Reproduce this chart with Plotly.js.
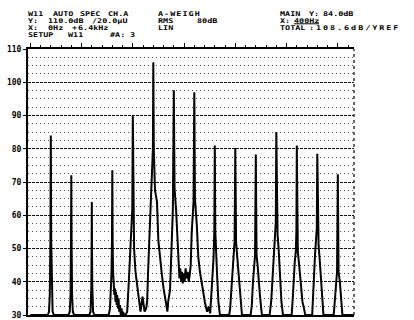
<!DOCTYPE html>
<html><head><meta charset="utf-8">
<script src="https://cdn.plot.ly/plotly-3.0.1.min.js"></script>
<style>html,body{margin:0;padding:0;background:#fff}#chart{width:414px;height:320px}</style>
</head><body><div id="chart"></div>
<script>
// Spectrum trace (frequency in Hz, level in dB)
const freqHz = [0,
 340,365,380,392,400,408,420,435,460,
 745,770,785,793,800,807,815,830,855,
 1150,1175,1190,1196,1200,1204,1210,1225,1250,
 1530,1555,1572,1585,1593,1600,1607,1615,1625,1640,1650,1662,1672,1685,1695,1710,1722,1735,1750,1765,1780,1795,1810,1830,
 1860,1890,1922,1950,1970,1990,2000,2010,2025,2052,2117,2150,2190,2230,2260,
 2280,2297,2336,2369,2392,2400,2410,2433,2455,2472,2498,2530,2564,2600,2628,2661,2675,2690,2726,
 2761,2782,2800,2815,2845,2862,2890,2910,2925,2945,2960,2975,2990,3010,3030,3050,3070,3090,3110,3130,3150,3170,3185,3200,
 3212,3247,3278,3310,3344,3375,3409,3450,3480,3510,
 3536,3560,3575,3590,3600,3610,3625,3645,3670,3700,
 3880,3900,3925,3950,3965,3985,4000,4015,4035,4055,4080,4110,4130,
 4300,4322,4345,4365,4385,4400,4415,4435,4455,4480,4505,4520,
 4670,4700,4730,4755,4775,4790,4800,4810,4825,4845,4870,4900,4930,
 5100,5125,5140,5160,5180,5192,5200,5208,5220,5240,5262,5285,5310,5340,5365,
 5500,5520,5540,5555,5575,5590,5600,5610,5625,5645,5665,5690,5720,
 5920,5945,5965,5985,6000,6015,6040,6065,6090,6316];
const levelDb = [30,
 30,31,36,52,84,52,36,31,30,
 30,31,36,50,72,50,36,31,30,
 30,31,38,50,64,50,38,31,30,
 30,32,38,43,52,73.5,52,43,40,36,38,34,37,33,36,32,35,31,33,30,32,30,31,30,
 30,31,40,50,56,62,90,62,50,43,34,31,35.5,31,32,
 34,42.6,56.5,67.5,80,106,80,67.5,66,64,52.5,47,42.6,38,35.5,32.5,31,34,37.5,
 52.5,62,97.6,68,61.5,55,43.5,41,44,40,43,39.5,42.5,40,44,41,43,40,42,45,55,62,64,97,
 65,57.6,47.5,43,39.6,36,33.6,31,32.5,30.5,
 36,44,47,55,81,55,47,42,34,30,
 30,32,38,44,48,52,80.2,52,48,44,38,33,30,
 30,33,40,44,48,78.3,48,45,42,36,32,30,
 30,34,42,50,54.5,58,85,58,54,50,42,34,30,
 30,36,42,46,49,55,81,55,49,46,42,36,34,32,30,
 30,35,43,48,51.5,56,78.5,56,51,47,42,36,30,
 30,35,40,43,72.3,43,40,35,30,30];

// Main cursor position
const cursorHz = [400];
const cursorDb = [111.3];

// Header text of the analyser printout
const headerTexts = [
 "W11","AUTO","SPEC","CH.A","A-WEIGH",
 "Y:","110.0dB","/20.0\u00b5U","RMS","80dB",
 "X:","0Hz","+","6.4kHz","LIN",
 "SETUP","W11","#A:","3",
 "MAIN","Y:","84.0dB",
 "X:","400Hz",
 "TOTAL",":","108.6dB/YREF"
];
// layout: left x, middle y (pixels) and extra letter gap of each header word
const R1 = 13.6, R2 = 20.6, R3 = 27.6, R4 = 34.6;
const headerPos = [
 [28,R1,0],[53,R1,0],[80,R1,0],[108,R1,0],[158,R1,0.8],
 [28,R2,0],[48,R2,0],[92,R2,0],[158,R2,0],[197,R2,0],
 [28,R3,0],[48,R3,0],[72,R3,0],[78,R3,0],[158,R3,0],
 [28,R4,0],[68,R4,0],[110,R4,0],[130,R4,0],
 [280,R1,0],[309,R1,0],[323,R1,0],
 [280,R2,0],[294,R2,0],
 [280,R3,0],[309,R3,0],[316,R3,1.5]
];
const glyphStretch = 1.3;

const L = 28, R = 354, T = 49, B = 315, W = 414, H = 320;
const px2paperX = x => (x - L) / (R - L);
const px2paperY = y => (B - y) / (B - T);

const fontFam = '"DejaVu Sans Mono", "Liberation Mono", monospace';

const annotations = headerTexts.map((t, i) => ({
  text: t, xref: 'paper', yref: 'paper',
  x: px2paperX(headerPos[i][0]), y: px2paperY(headerPos[i][1]),
  xanchor: 'left', yanchor: 'middle', align: 'left', showarrow: false, borderpad: 0,
  font: {family: fontFam, size: 6.5, color: '#000', weight: 'bold'}
}));

const traces = [
  {x: freqHz, y: levelDb, type: 'scatter', mode: 'lines',
   line: {color: '#000', width: 2}, hoverinfo: 'skip'},
  {x: cursorHz, y: cursorDb, type: 'scatter', mode: 'markers', cliponaxis: false,
   marker: {symbol: 'line-ns', size: 6, line: {color: '#000', width: 2}}, hoverinfo: 'skip'}
];

const layout = {
  width: W, height: H,
  margin: {l: L, r: W - R, t: T, b: H - B, pad: 0},
  paper_bgcolor: '#fff', plot_bgcolor: '#fff',
  showlegend: false,
  xaxis: {
    range: [-45, 6316], side: 'top', showline: true, linecolor: '#000', linewidth: 2,
    mirror: true, ticks: 'outside', ticklen: 4, tickwidth: 1, tickcolor: '#000',
    tickmode: 'linear', tick0: 0, dtick: 1000, showticklabels: false,
    showgrid: false, zeroline: false,
    minor: {tickmode: 'linear', tick0: 0, dtick: 200, ticks: 'outside', ticklen: 2, tickcolor: '#000', showgrid: false}
  },
  yaxis: {
    range: [30, 110], tickmode: 'linear', tick0: 30, dtick: 10,
    showline: true, linecolor: '#000', linewidth: 2, mirror: false,
    ticks: 'outside', ticklen: 3, tickcolor: '#000',
    tickfont: {family: fontFam, size: 8, color: '#000', weight: 'bold'},
    showgrid: true, gridcolor: '#111', gridwidth: 1, griddash: '3px,1px',
    zeroline: false,
    minor: {tickmode: 'linear', tick0: 30, dtick: 2.5, showgrid: true, gridcolor: '#555', gridwidth: 1, griddash: '1px,3px', ticks: ''}
  },
  shapes: [
    {type: 'line', xref: 'paper', yref: 'paper', x0: 1, x1: 1, y0: 0, y1: 1,
     line: {color: '#333', width: 1.5, dash: 'dot'}},
    {type: 'line', xref: 'paper', yref: 'paper', x0: px2paperX(294), x1: px2paperX(319),
     y0: px2paperY(23.8), y1: px2paperY(23.8), line: {color: '#000', width: 1}}
  ],
  annotations: annotations
};

Plotly.newPlot('chart', traces, layout, {staticPlot: true}).then(gd => {
  const svgRect = gd.querySelector('svg.main-svg').getBoundingClientRect();
  gd.querySelectorAll('g.annotation').forEach(g => {
    const i = +g.getAttribute('data-index');
    const t = g.querySelector('text.annotation-text');
    if (!t || isNaN(i)) return;
    if (headerPos[i][2]) t.setAttribute('letter-spacing', headerPos[i][2]);
    const bb = t.getBBox();
    const r0 = t.getBoundingClientRect();
    const offset = (r0.left - svgRect.left) - bb.x;
    const localTarget = headerPos[i][0] - offset;
    t.setAttribute('transform', 'translate(' + localTarget.toFixed(2) + ',0) scale(' + glyphStretch + ',1) translate(' + (-bb.x).toFixed(2) + ',0)');
  });
});
</script>
</body></html>
